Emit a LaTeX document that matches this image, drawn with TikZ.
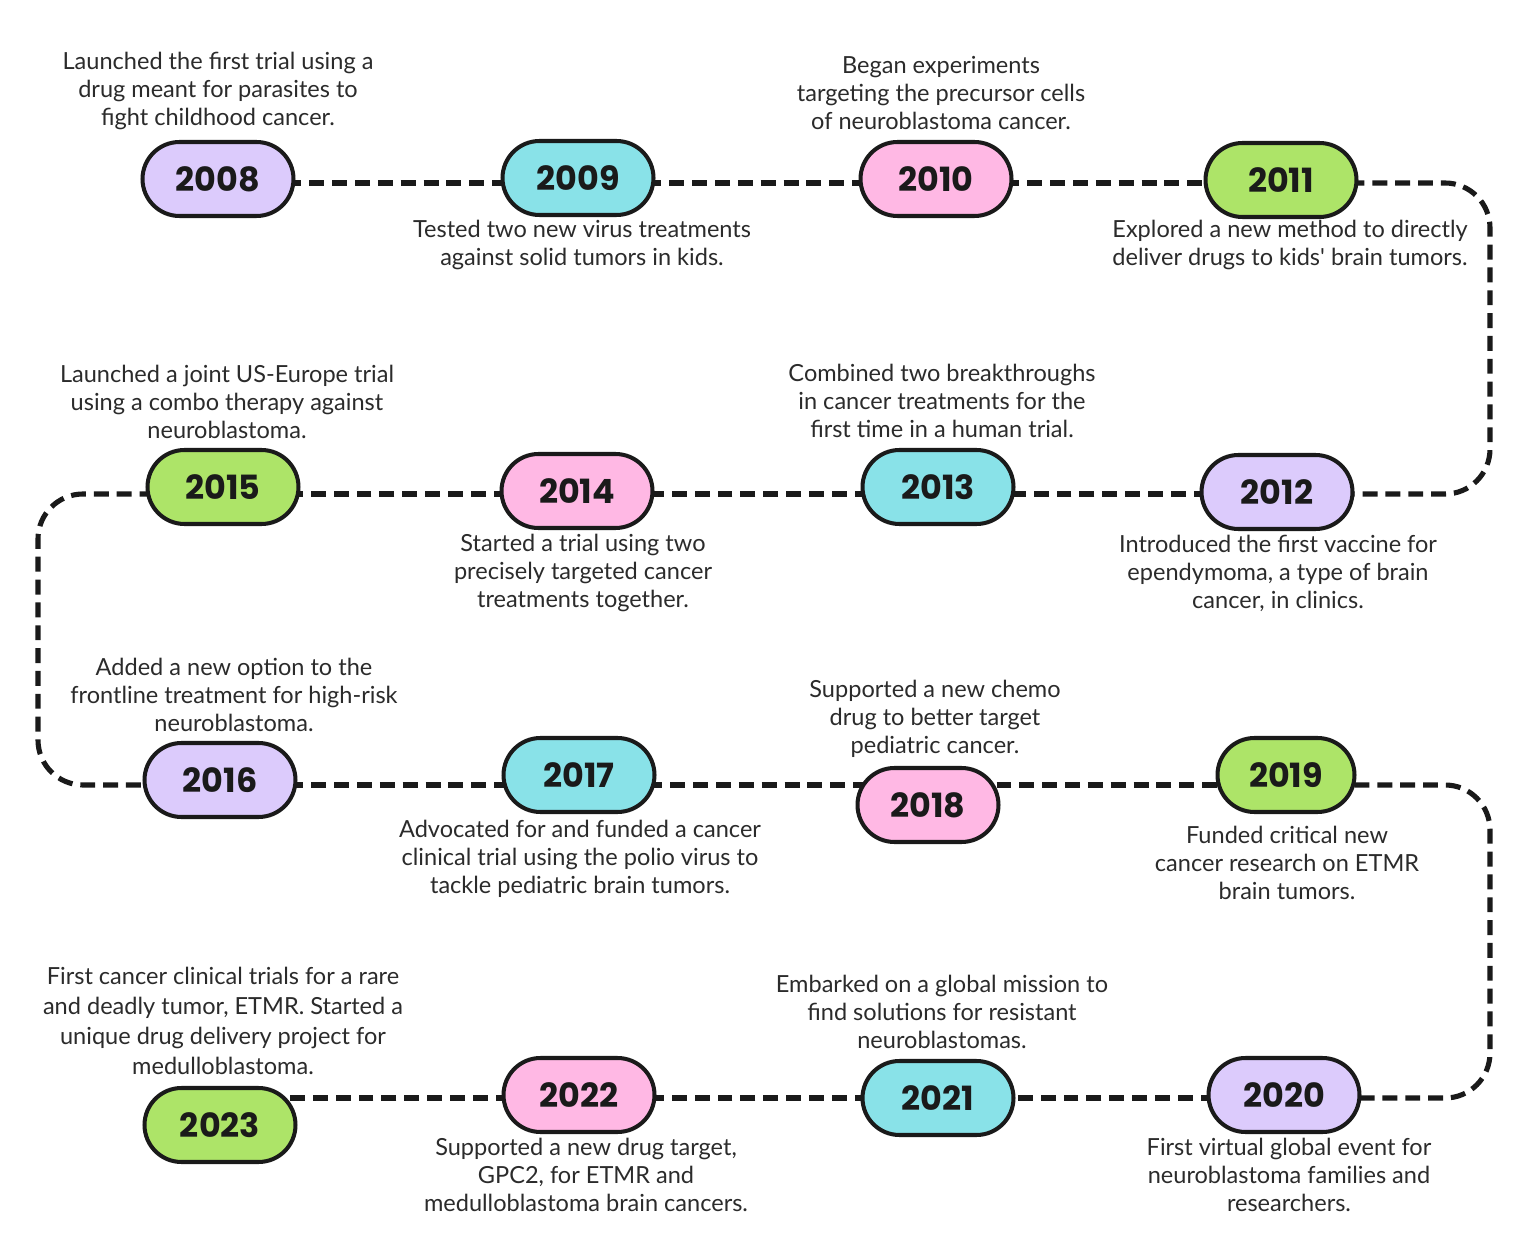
\documentclass[tikz,border=0pt]{standalone}
\usepackage{fontspec}
\setmainfont{Poppins}
\newfontfamily\notefont{Lato}
\usetikzlibrary{positioning, backgrounds}
\definecolor{tlLilac}{HTML}{DCCBFC}
\definecolor{tlCyan}{HTML}{89E2E8}
\definecolor{tlPink}{HTML}{FFB8E4}
\definecolor{tlGreen}{HTML}{ADE468}
\definecolor{tlInk}{HTML}{1A1A1A}
\definecolor{tlText}{HTML}{2B2B2B}

\begin{document}
\begin{tikzpicture}[x=0.02cm, y=-0.02cm,
    pill/.style={rectangle, rounded corners=0.74cm, draw=tlInk, line width=2.3pt,
      minimum height=1.48cm, minimum width=3.02cm, inner sep=0pt,
      font=\fontsize{19}{20}\selectfont\bfseries, text=tlInk},
    note/.style={align=center, inner sep=0pt, text=tlText,
      font=\notefont\fontsize{13.4}{15.9}\selectfont},
    tl/.style={draw=tlInk, line width=2.9pt, dash pattern=on 8.5pt off 4.5pt}]
  \useasboundingbox (0,0) rectangle (1536,1253);

  % row levels and loop columns
  \coordinate (r1) at (0,183);
  \coordinate (r2) at (0,494);
  \coordinate (r3) at (0,785);
  \coordinate (r4) at (0,1098);
  \coordinate (xl) at (38,0);
  \coordinate (xr) at (1490,0);

  % row 1
  \node[pill, fill=tlLilac] (y2008) at (218,179) {2008};
  \node[pill, fill=tlCyan]  (y2009) at (578,178) {2009};
  \node[pill, fill=tlPink]  (y2010) at (936,179) {2010};
  \node[pill, fill=tlGreen] (y2011) at (1281,180) {2011};
  \node[note] (t2008) at (218,91) {Launched the first trial using a\\drug meant for parasites to\\fight childhood cancer.};
  \node[note] (t2009) at (582,245) {Tested two new virus treatments\\against solid tumors in kids.};
  \node[note] (t2010) at (941,93) {Began experiments\\targeting the precursor cells\\of neuroblastoma cancer.};
  \node[note] (t2011) at (1290,245) {Explored a new method to directly\\deliver drugs to kids' brain tumors.};

  % row 2
  \node[pill, fill=tlLilac] (y2012) at (1277,492) {2012};
  \node[pill, fill=tlCyan]  (y2013) at (938,487) {2013};
  \node[pill, fill=tlPink]  (y2014) at (577,491) {2014};
  \node[pill, fill=tlGreen] (y2015) at (223,487) {2015};
  \node[note] (t2015) at (227,402) {Launched a joint US-Europe trial\\using a combo therapy against\\neuroblastoma.};
  \node[note] (t2014) at (583,573) {Started a trial using two\\precisely targeted cancer\\treatments together.};
  \node[note] (t2013) at (942,401) {Combined two breakthroughs\\in cancer treatments for the\\first time in a human trial.};
  \node[note] (t2012) at (1278,573) {Introduced the first vaccine for\\ependymoma, a type of brain\\cancer, in clinics.};

  % row 3
  \node[pill, fill=tlLilac] (y2016) at (220,780) {2016};
  \node[pill, fill=tlCyan]  (y2017) at (579,775) {2017};
  \node[pill, fill=tlPink, minimum width=2.82cm]  (y2018) at (928,805) {2018};
  \node[pill, fill=tlGreen, minimum width=2.74cm] (y2019) at (1286,775) {2019};
  \node[note] (t2016) at (234,695) {Added a new option to the\\frontline treatment for high-risk\\neuroblastoma.};
  \node[note] (t2017) at (580,859) {Advocated for and funded a cancer\\clinical trial using the polio virus to\\tackle pediatric brain tumors.};
  \node[note] (t2018) at (935,719) {Supported a new chemo\\drug to better target\\pediatric cancer.};
  \node[note] (t2019) at (1287,863) {Funded critical new\\cancer research on ETMR\\brain tumors.};

  % row 4
  \node[pill, fill=tlLilac] (y2020) at (1284,1095) {2020};
  \node[pill, fill=tlCyan]  (y2021) at (938,1098) {2021};
  \node[pill, fill=tlPink]  (y2022) at (579,1095) {2022};
  \node[pill, fill=tlGreen] (y2023) at (220,1125) {2023};
  \node[note, font=\notefont\fontsize{13.4}{17}\selectfont] (t2023) at (223,1021) {First cancer clinical trials for a rare\\and deadly tumor, ETMR. Started a\\unique drug delivery project for\\medulloblastoma.};
  \node[note] (t2022) at (586,1175) {Supported a new drug target,\\GPC2, for ETMR and\\medulloblastoma brain cancers.};
  \node[note] (t2021) at (942,1012) {Embarked on a global mission to\\find solutions for resistant\\neuroblastomas.};
  \node[note] (t2020) at (1289,1175) {First virtual global event for\\neuroblastoma families and\\researchers.};

  % dashed track behind the pills
  \begin{scope}[on background layer]
    \fill[white] (0,0) rectangle (1536,1253);
    \foreach \a/\b/\r in {2008/2009/r1, 2009/2010/r1, 2010/2011/r1,
        2012/2013/r2, 2013/2014/r2, 2014/2015/r2,
        2016/2017/r3, 2017/2018/r3, 2018/2019/r3,
        2020/2021/r4, 2021/2022/r4, 2022/2023/r4}
      \draw[tl] (y\a |- \r) -- (y\b |- \r);
    \draw[tl, rounded corners=0.9cm] (y2011 |- r1) -| (xr |- r2) -- (y2012 |- r2);
    \draw[tl, rounded corners=0.9cm] (y2015 |- r2) -| (xl |- r3) -- (y2016 |- r3);
    \draw[tl, rounded corners=0.9cm] (y2019 |- r3) -| (xr |- r4) -- (y2020 |- r4);
  \end{scope}
\end{tikzpicture}
\end{document}
